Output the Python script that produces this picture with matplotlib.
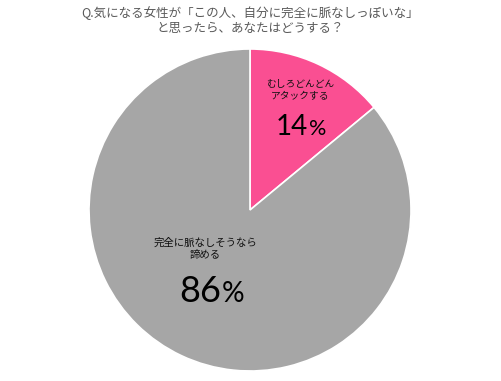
import matplotlib
matplotlib.use("Agg")
import matplotlib.pyplot as plt

plt.rcParams['font.family'] = ['Noto Sans CJK JP', 'DejaVu Sans']

categories = ["むしろどんどん\nアタックする", "完全に脈なしそうなら\n諦める"]
values = [14, 86]
colors = ["#FA4F92", "#A6A6A6"]
title = "Q.気になる女性が「この人、自分に完全に脈なしっぽいな」\nと思ったら、あなたはどうする？"

fig = plt.figure(figsize=(5.01, 3.81), dpi=100)
fig.patch.set_facecolor("white")
ax = fig.add_axes([89/501, 10/381, 322/501, 322/381])
ax.pie(values, colors=colors, startangle=90, counterclock=False, radius=1,
       wedgeprops=dict(edgecolor="white", linewidth=1.2))
ax.set_xlim(-1, 1)
ax.set_ylim(-1, 1)
ax.set_aspect("equal")
ax.axis("off")

fig.text(0.5, 1 - 20.5/381, title, ha="center", va="center", fontsize=9,
         color="#595959", linespacing=1.2)

def px(x, y):
    return x/501, 1 - y/381

# label positions (pixels)
label_pos = [(300, 90.5), (205, 248.5)]
label_size = [7, 7.5]
pct_start = [(276, 135), (179, 302)]
pct_size = [20, 26]
renderer = fig.canvas.get_renderer()
numfam = ['Lato', 'Noto Sans CJK JP']
for cat, v, lp, ls, ps, sz in zip(categories, values, label_pos, label_size, pct_start, pct_size):
    fig.text(*px(*lp), cat, ha="center", va="center", fontsize=ls,
             color="#111111", linespacing=1.25)
    t = fig.text(*px(*ps), f"{v}", ha="left", va="baseline",
                 fontsize=sz, color="black", family=numfam)
    w = t.get_window_extent(renderer=renderer).width
    fig.text(*px(ps[0] + w + 1, ps[1]), "%", ha="left", va="baseline",
             fontsize=sz * 0.78, color="black", family=numfam)

fig.savefig("out.png", dpi=100, facecolor="white")
